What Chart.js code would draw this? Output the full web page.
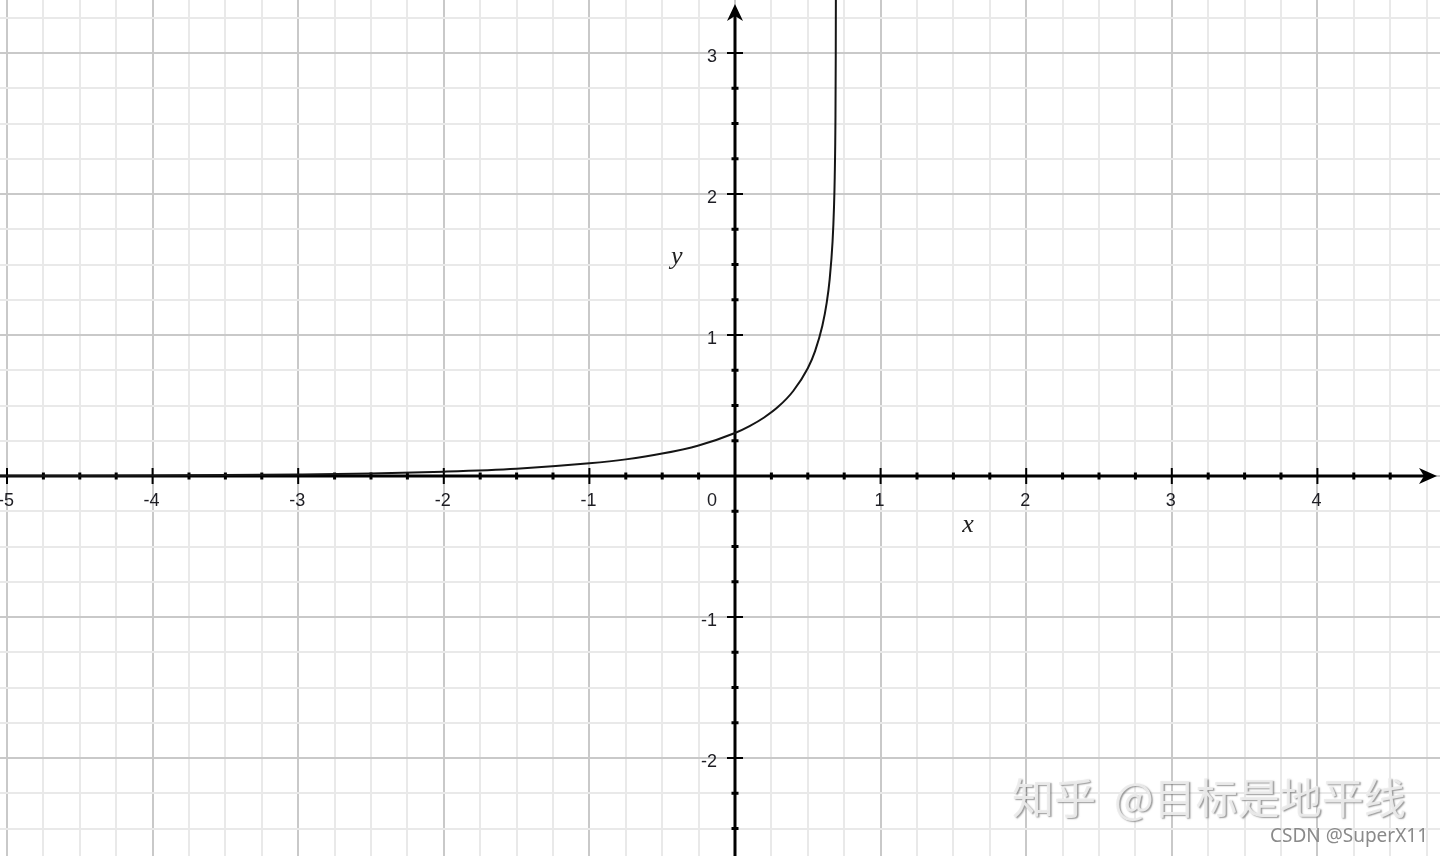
<!DOCTYPE html>
<html><head><meta charset="utf-8">
<script src="https://cdn.jsdelivr.net/npm/chart.js@4.4.1/dist/chart.umd.min.js"></script>
<style>html,body{margin:0;padding:0;background:#fff;overflow:hidden}canvas{display:block}</style>
</head><body>
<canvas id="c" width="1440" height="856"></canvas>
<script>
// ---- data ----
const curveX = [-5.05, -4.5, -4, -3.5, -3, -2.5, -2, -1.5, -1, -0.75, -0.5, -0.25, 0, 0.1, 0.2, 0.3, 0.4, 0.5, 0.55, 0.6, 0.63, 0.65, 0.67, 0.68, 0.685, 0.69, 0.692, 0.6932];
const curveY = [0.0015, 0.0025, 0.004, 0.0067, 0.011, 0.018, 0.031, 0.052, 0.09, 0.118, 0.159, 0.217, 0.305, 0.354, 0.415, 0.494, 0.603, 0.764, 0.886, 1.065, 1.229, 1.393, 1.661, 1.909, 2.12, 2.54, 2.98, 3.6];
const xTickValues = [-5, -4, -3, -2, -1, 0, 1, 2, 3, 4];
const xTickLabels = ['-5', '-4', '-3', '-2', '-1', '0', '1', '2', '3', '4'];
const yTickValues = [-2, -1, 1, 2, 3];
const yTickLabels = ['-2', '-1', '1', '2', '3'];
const xRange = [-5.048, 4.842];
const yRange = [-2.695, 3.376];
const gridStep = 0.25;
const axisTitleX = 'x';
const axisTitleY = 'y';
const watermarkMain = ['知乎', '@目标是地平线'];
const watermarkSub = 'CSDN @SuperX11';

const points = curveX.map((v, i) => ({ x: v, y: curveY[i] }));

function gridTicks(scale) {
  const t = [];
  const a = Math.ceil(scale.min / gridStep), b = Math.floor(scale.max / gridStep);
  for (let i = a; i <= b; i++) t.push({ value: i * gridStep });
  scale.ticks = t;
}
function gridColor(c) {
  const v = c.tick ? c.tick.value : 0;
  if (Math.abs(v - Math.round(v)) < 1e-6) return '#c9c9c9';
  return '#e9e9e9';
}

const axesPlugin = {
  id: 'axes',
  beforeDatasetsDraw(chart) {
    const { ctx, scales: { x, y }, chartArea: a } = chart;
    const x0 = x.getPixelForValue(0), y0 = y.getPixelForValue(0);
    ctx.save();
    ctx.strokeStyle = '#000'; ctx.fillStyle = '#000';
    ctx.lineWidth = 3;
    ctx.beginPath();
    ctx.moveTo(a.left, y0); ctx.lineTo(a.right - 10, y0);
    ctx.moveTo(x0, a.bottom); ctx.lineTo(x0, a.top + 10);
    ctx.stroke();
    // arrows
    const tipX = a.right - 3;
    ctx.beginPath();
    ctx.moveTo(tipX, y0); ctx.lineTo(tipX - 18, y0 - 8); ctx.lineTo(tipX - 13, y0); ctx.lineTo(tipX - 18, y0 + 8); ctx.closePath(); ctx.fill();
    const tipY = a.top + 4;
    ctx.beginPath();
    ctx.moveTo(x0, tipY); ctx.lineTo(x0 - 8, tipY + 17); ctx.lineTo(x0, tipY + 12); ctx.lineTo(x0 + 8, tipY + 17); ctx.closePath(); ctx.fill();
    // tick marks
    x.ticks.forEach(t => {
      const v = t.value; if (Math.abs(v) < 1e-9) return;
      const px = x.getPixelForValue(v);
      if (px > a.right - 22) return;
      const major = Math.abs(v - Math.round(v)) < 1e-6;
      ctx.lineWidth = major ? 2 : 3;
      const h = major ? 8 : 3.5;
      ctx.beginPath(); ctx.moveTo(px, y0 - h); ctx.lineTo(px, y0 + h); ctx.stroke();
    });
    y.ticks.forEach(t => {
      const v = t.value; if (Math.abs(v) < 1e-9) return;
      const py = y.getPixelForValue(v);
      if (py < a.top + 22) return;
      const major = Math.abs(v - Math.round(v)) < 1e-6;
      ctx.lineWidth = major ? 2 : 3;
      const h = major ? 8 : 3.5;
      ctx.beginPath(); ctx.moveTo(x0 - h, py); ctx.lineTo(x0 + h, py); ctx.stroke();
    });
    // tick labels
    ctx.fillStyle = '#1e1e24';
    ctx.font = '18px "Liberation Sans", Arial, sans-serif';
    ctx.textBaseline = 'middle';
    xTickValues.forEach((v, i) => {
      const px = x.getPixelForValue(v);
      if (v === 0) { ctx.textAlign = 'right'; ctx.fillText(xTickLabels[i], x0 - 18, y0 + 25); }
      else { ctx.textAlign = 'center'; ctx.fillText(xTickLabels[i], px - 1, y0 + 25); }
    });
    ctx.textAlign = 'right';
    yTickValues.forEach((v, i) => {
      ctx.fillText(yTickLabels[i], x0 - 18, y.getPixelForValue(v) + 4);
    });
    // axis titles
    ctx.fillStyle = '#222';
    ctx.font = 'italic 26px "Liberation Serif", "DejaVu Serif", serif';
    ctx.textAlign = 'center';
    ctx.fillText(axisTitleX, x.getPixelForValue(1.6), y.getPixelForValue(-0.35));
    ctx.fillText(axisTitleY, x.getPixelForValue(-0.4), y.getPixelForValue(1.55));
    ctx.restore();
  },
  afterDraw(chart) {
    const { ctx } = chart;
    ctx.save();
    ctx.font = '42px "Noto Sans CJK SC", sans-serif';
    ctx.textBaseline = 'middle';
    ctx.textAlign = 'left';
    ctx.shadowColor = 'rgba(110,110,110,0.75)';
    ctx.shadowOffsetX = 1.5; ctx.shadowOffsetY = 1.5; ctx.shadowBlur = 1.5;
    ctx.fillStyle = 'rgba(236,236,236,0.95)';
    ctx.fillText(watermarkMain[0], 1012, 798);
    ctx.fillText(watermarkMain[1], 1114, 798);
    ctx.shadowColor = 'transparent';
    ctx.font = '19px "Noto Sans", sans-serif';
    ctx.fillStyle = '#8a8a8a';
    ctx.textAlign = 'right';
    ctx.textBaseline = 'alphabetic';
    ctx.fillText(watermarkSub, 1428, 842);
    ctx.restore();
  }
};

new Chart(document.getElementById('c'), {
  type: 'scatter',
  data: {
    datasets: [{
      data: points,
      showLine: true,
      borderColor: '#151515',
      borderWidth: 2,
      pointRadius: 0,
      cubicInterpolationMode: 'monotone',
      fill: false
    }]
  },
  options: {
    responsive: false,
    animation: false,
    devicePixelRatio: 1,
    layout: { padding: 0 },
    plugins: { legend: { display: false }, tooltip: { enabled: false } },
    scales: {
      x: {
        type: 'linear', min: xRange[0], max: xRange[1],
        afterBuildTicks: gridTicks,
        afterFit: s => { s.height = 0; },
        ticks: { display: false },
        border: { display: false },
        grid: { color: gridColor, lineWidth: 2, drawTicks: false }
      },
      y: {
        type: 'linear', min: yRange[0], max: yRange[1],
        afterBuildTicks: gridTicks,
        afterFit: s => { s.width = 0; },
        ticks: { display: false },
        border: { display: false },
        grid: { color: gridColor, lineWidth: 2, drawTicks: false }
      }
    }
  },
  plugins: [axesPlugin]
});
</script>
</body></html>
